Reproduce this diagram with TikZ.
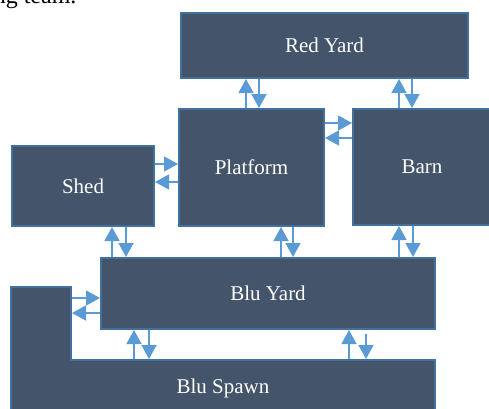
\documentclass[tikz,border=0pt]{standalone}
\usepackage{fontspec}
\setmainfont{Liberation Serif}
\usetikzlibrary{arrows.meta}

\definecolor{roomfill}{HTML}{44546A}
\definecolor{roomline}{HTML}{41719C}
\definecolor{flowblue}{HTML}{5B9BD5}

\tikzset{
  room/.style={rectangle, fill=roomfill, draw=roomline, line width=2pt,
    text=white, inner sep=0pt, font=\fontsize{21}{24}\selectfont},
  flow/.style={draw=flowblue, line width=1.5pt,
    -{Triangle[width=15pt,length=14pt]}},
}

\begin{document}
\begin{tikzpicture}[x=1pt,y=-1pt]

      \useasboundingbox (0,0) rectangle (489,408);

      \node[anchor=base east, font=\fontsize{24}{28}\selectfont] (tail) at (80,3) {ng team.};

      % Blu Spawn is L-shaped
      \draw[fill=roomfill, draw=roomline, line width=2pt]
        (11,287) -- (71,287) -- (71,360) -- (435,360) -- (435,420) -- (11,420) -- cycle;

      \begin{scope}[every node/.style={room}]
        \node[minimum width=287pt, minimum height=65pt]  (redyard)  at (324.5,45.5) {Red Yard};
        \node[minimum width=145pt, minimum height=117pt] (platform) at (251.5,167.5) {Platform};
        \node[minimum width=146pt, minimum height=116pt] (barn)     at (426,167)    {\hspace*{-8pt}Barn};
        \node[minimum width=142pt, minimum height=80pt]  (shed)     at (83,186)     {Shed};
        \node[minimum width=334pt, minimum height=71pt]  (bluyard)  at (268,293.5)  {Blu Yard};
        \node[fill=none, draw=none, minimum width=424pt, minimum height=56pt] (spawn) at (223,388) {Blu Spawn};
      \end{scope}
      \coordinate (spawnarm) at (72,322);

      \begin{scope}[every edge/.style={flow}]
        % Red Yard
        \path (platform.north -| 246,0) edge (redyard.south -| 246,0);
        \path (redyard.south -| 259,0)  edge (platform.north -| 259,0);
        \path (barn.north -| 399,0)     edge (redyard.south -| 399,0);
        \path (redyard.south -| 412,0)  edge (barn.north -| 412,0);
        % side by side
        \path (platform.east |- 0,123)  edge (barn.west |- 0,123);
        \path (barn.west |- 0,138)      edge (platform.east |- 0,138);
        \path (shed.east |- 0,164)      edge (platform.west |- 0,164);
        \path (platform.west |- 0,182)  edge (shed.east |- 0,182);
        % Blu Yard
        \path (bluyard.north -| 112,0)  edge (shed.south -| 112,0);
        \path (shed.south -| 126,0)     edge (bluyard.north -| 126,0);
        \path (bluyard.north -| 281,0)  edge (platform.south -| 281,0);
        \path (platform.south -| 293,0) edge (bluyard.north -| 293,0);
        \path (bluyard.north -| 399,0)  edge (barn.south -| 399,0);
        \path (barn.south -| 413,0)     edge (bluyard.north -| 413,0);
        % Blu Spawn
        \path (spawnarm |- 0,298)       edge (bluyard.west |- 0,298);
        \path (bluyard.west |- 0,313)   edge (spawnarm |- 0,313);
        \path (spawn.north -| 134,0)    edge (bluyard.south -| 134,0);
        \path (bluyard.south -| 149,0)  edge (spawn.north -| 149,0);
        \path (spawn.north -| 349,0)    edge (bluyard.south -| 349,0);
        \path (bluyard.south -| 366,0) ++(0,4) edge (spawn.north -| 366,0);
      \end{scope}

    \end{tikzpicture}
\end{document}
